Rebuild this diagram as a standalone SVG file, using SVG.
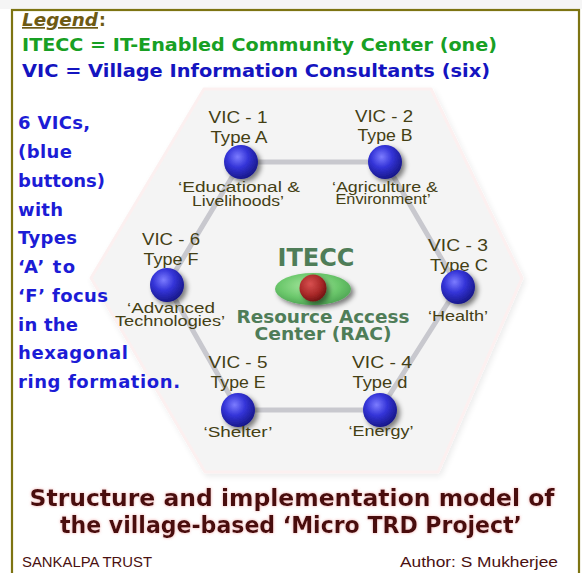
<svg xmlns="http://www.w3.org/2000/svg" width="582" height="573" viewBox="0 0 582 573">
<style>
.lab{font-family:"Liberation Sans",Arial,sans-serif;font-size:17px;fill:#443f14;text-anchor:middle}
.sub{font-family:"Liberation Sans",Arial,sans-serif;font-size:14px;fill:#443f14;text-anchor:middle}
.side{font-family:"DejaVu Sans",sans-serif;font-weight:bold;font-size:18px;fill:#1c1cd6}
.leg{font-family:"DejaVu Sans",sans-serif;font-weight:bold;font-size:17px}
.ctr{font-family:"DejaVu Sans",sans-serif;font-weight:bold;fill:#4f7d58;text-anchor:middle}
.title{font-family:"DejaVu Sans",sans-serif;font-weight:bold;font-size:23px;fill:#4a0a0a;text-anchor:middle}
.foot{font-family:"Liberation Sans",Arial,sans-serif;font-size:14px;fill:#4a1010}
.ring{stroke:#c8c8ce;stroke-width:5;fill:none;stroke-linecap:round}
</style>
<defs>
<radialGradient id="blue" cx="0.4" cy="0.35" r="0.7">
<stop offset="0" stop-color="#7c7cff"/>
<stop offset="0.45" stop-color="#3434d8"/>
<stop offset="1" stop-color="#141480"/>
</radialGradient>
<radialGradient id="green" cx="0.45" cy="0.4" r="0.65">
<stop offset="0" stop-color="#a8e8a0"/>
<stop offset="0.6" stop-color="#6cc86c"/>
<stop offset="1" stop-color="#4aa050"/>
</radialGradient>
<radialGradient id="red" cx="0.4" cy="0.35" r="0.7">
<stop offset="0" stop-color="#d85050"/>
<stop offset="0.6" stop-color="#a82828"/>
<stop offset="1" stop-color="#6a1010"/>
</radialGradient>
<filter id="shadow" x="-50%" y="-50%" width="200%" height="200%">
<feGaussianBlur in="SourceAlpha" stdDeviation="2.5"/>
<feOffset dx="3" dy="3" result="b"/>
<feComponentTransfer><feFuncA type="linear" slope="0.5"/></feComponentTransfer>
<feMerge><feMergeNode/><feMergeNode in="SourceGraphic"/></feMerge>
</filter>
<filter id="hexsh" x="-10%" y="-10%" width="120%" height="120%">
<feGaussianBlur in="SourceAlpha" stdDeviation="3"/>
<feOffset dx="2" dy="3"/>
<feComponentTransfer><feFuncA type="linear" slope="0.08"/></feComponentTransfer>
<feMerge><feMergeNode/><feMergeNode in="SourceGraphic"/></feMerge>
</filter>
<filter id="glow" x="-5%" y="-30%" width="110%" height="160%">
<feGaussianBlur in="SourceAlpha" stdDeviation="1.5"/>
<feColorMatrix values="0 0 0 0 0.85 0 0 0 0 0.3 0 0 0 0 0.3 0 0 0 0.8 0"/>
<feMerge><feMergeNode/><feMergeNode in="SourceGraphic"/></feMerge>
</filter>
</defs>
<rect x="0" y="0" width="582" height="573" fill="#ffffff"/>
<rect x="0" y="0" width="582" height="9" fill="#f5f5f5"/>
<rect x="12" y="10" width="567" height="570" fill="#ffffff" stroke="#7d7412" stroke-width="2.2"/>

<g id="hexagon-background">
<polygon points="204,89 431,89 522,278 438,472 205,472 91,278" fill="#f4f4f4" stroke="#fcf0f0" stroke-width="3" stroke-linejoin="round" filter="url(#hexsh)"/>
</g>

<g id="legend">
<text class="leg" x="22" y="26" font-style="italic" fill="#6e5a14" text-decoration="underline" textLength="76" lengthAdjust="spacingAndGlyphs">Legend</text>
<text class="leg" x="99" y="26" fill="#6e5a14">:</text>
<text class="leg" x="22" y="51" fill="#18a024" textLength="475" lengthAdjust="spacingAndGlyphs">ITECC = IT-Enabled Community Center (one)</text>
<text class="leg" x="22" y="77" fill="#1414c0" textLength="468" lengthAdjust="spacingAndGlyphs">VIC = Village Information Consultants (six)</text>
</g>

<g id="side-note">
<text class="side" x="18" y="129" textLength="72" lengthAdjust="spacing">6 VICs,</text>
<text class="side" x="18" y="158" textLength="54" lengthAdjust="spacing">(blue</text>
<text class="side" x="18" y="187" textLength="87" lengthAdjust="spacing">buttons)</text>
<text class="side" x="18" y="216" textLength="45" lengthAdjust="spacing">with</text>
<text class="side" x="18" y="244" textLength="59" lengthAdjust="spacing">Types</text>
<text class="side" x="18" y="273" textLength="57" lengthAdjust="spacing">‘A’ to</text>
<text class="side" x="18" y="302" textLength="90" lengthAdjust="spacing">‘F’ focus</text>
<text class="side" x="18" y="331" textLength="60" lengthAdjust="spacing">in the</text>
<text class="side" x="18" y="359" textLength="110" lengthAdjust="spacing">hexagonal</text>
<text class="side" x="18" y="388" textLength="162" lengthAdjust="spacing">ring formation.</text>
</g>

<g id="connectors">
<line class="ring" x1="241" y1="162" x2="385" y2="162"/>
<line class="ring" x1="385" y1="162" x2="458" y2="287"/>
<line class="ring" x1="458" y1="287" x2="380" y2="410"/>
<line class="ring" x1="380" y1="410" x2="238" y2="410"/>
<line class="ring" x1="238" y1="410" x2="167" y2="285"/>
<line class="ring" x1="167" y1="285" x2="241" y2="162"/>
</g>

<g id="itecc">
<text class="ctr" x="316" y="266" font-size="25" textLength="77" lengthAdjust="spacingAndGlyphs">ITECC</text>
<ellipse cx="313" cy="289" rx="38" ry="16" fill="url(#green)" filter="url(#shadow)"/>
<circle cx="313" cy="288" r="13.5" fill="url(#red)" filter="url(#shadow)"/>
<text class="ctr" x="323" y="323" font-size="17" textLength="173" lengthAdjust="spacingAndGlyphs">Resource Access</text>
<text class="ctr" x="323" y="340" font-size="17" textLength="137" lengthAdjust="spacingAndGlyphs">Center (RAC)</text>
</g>

<g id="vic1">
<text class="lab" x="238" y="123" textLength="59" lengthAdjust="spacingAndGlyphs">VIC - 1</text>
<text class="lab" x="239" y="143" textLength="57" lengthAdjust="spacingAndGlyphs">Type A</text>
<circle cx="241" cy="162" r="17" fill="url(#blue)" filter="url(#shadow)"/>
<text class="sub" x="239" y="192" textLength="122" lengthAdjust="spacingAndGlyphs">‘Educational &amp;</text>
<text class="sub" x="238" y="206" textLength="92" lengthAdjust="spacingAndGlyphs">Livelihoods’</text>
</g>

<g id="vic2">
<text class="lab" x="384" y="122" textLength="58" lengthAdjust="spacingAndGlyphs">VIC - 2</text>
<text class="lab" x="385" y="141" textLength="55" lengthAdjust="spacingAndGlyphs">Type B</text>
<circle cx="385" cy="162" r="17" fill="url(#blue)" filter="url(#shadow)"/>
<text class="sub" x="385" y="192" textLength="106" lengthAdjust="spacingAndGlyphs">‘Agriculture &amp;</text>
<text class="sub" x="383" y="204" textLength="95" lengthAdjust="spacingAndGlyphs">Environment’</text>
</g>

<g id="vic3">
<text class="lab" x="458" y="251" textLength="60" lengthAdjust="spacingAndGlyphs">VIC - 3</text>
<text class="lab" x="459" y="271" textLength="58" lengthAdjust="spacingAndGlyphs">Type C</text>
<circle cx="458" cy="287" r="17" fill="url(#blue)" filter="url(#shadow)"/>
<text class="sub" x="458" y="321" textLength="60" lengthAdjust="spacingAndGlyphs">‘Health’</text>
</g>

<g id="vic4">
<text class="lab" x="382" y="368" textLength="60" lengthAdjust="spacingAndGlyphs">VIC - 4</text>
<text class="lab" x="380" y="388" textLength="55" lengthAdjust="spacingAndGlyphs">Type d</text>
<circle cx="380" cy="410" r="17" fill="url(#blue)" filter="url(#shadow)"/>
<text class="sub" x="381" y="436" textLength="65" lengthAdjust="spacingAndGlyphs">‘Energy’</text>
</g>

<g id="vic5">
<text class="lab" x="238" y="368" textLength="59" lengthAdjust="spacingAndGlyphs">VIC - 5</text>
<text class="lab" x="238" y="388" textLength="55" lengthAdjust="spacingAndGlyphs">Type E</text>
<circle cx="238" cy="410" r="17" fill="url(#blue)" filter="url(#shadow)"/>
<text class="sub" x="238" y="437" textLength="69" lengthAdjust="spacingAndGlyphs">‘Shelter’</text>
</g>

<g id="vic6">
<text class="lab" x="171" y="245" textLength="58" lengthAdjust="spacingAndGlyphs">VIC - 6</text>
<text class="lab" x="171" y="265" textLength="55" lengthAdjust="spacingAndGlyphs">Type F</text>
<circle cx="167" cy="285" r="17" fill="url(#blue)" filter="url(#shadow)"/>
<text class="sub" x="171" y="313" textLength="88" lengthAdjust="spacingAndGlyphs">‘Advanced</text>
<text class="sub" x="170" y="326" textLength="110" lengthAdjust="spacingAndGlyphs">Technologies’</text>
</g>

<g id="title" filter="url(#glow)">
<text class="title" x="292" y="506" textLength="525" lengthAdjust="spacingAndGlyphs">Structure and implementation model of</text>
<text class="title" x="291" y="533" textLength="462" lengthAdjust="spacingAndGlyphs">the village-based ‘Micro TRD Project’</text>
</g>

<g id="footer">
<text class="foot" x="22" y="567" textLength="130" lengthAdjust="spacingAndGlyphs">SANKALPA TRUST</text>
<text class="foot" x="400" y="567" textLength="158" lengthAdjust="spacingAndGlyphs">Author: S Mukherjee</text>
</g>
</svg>
